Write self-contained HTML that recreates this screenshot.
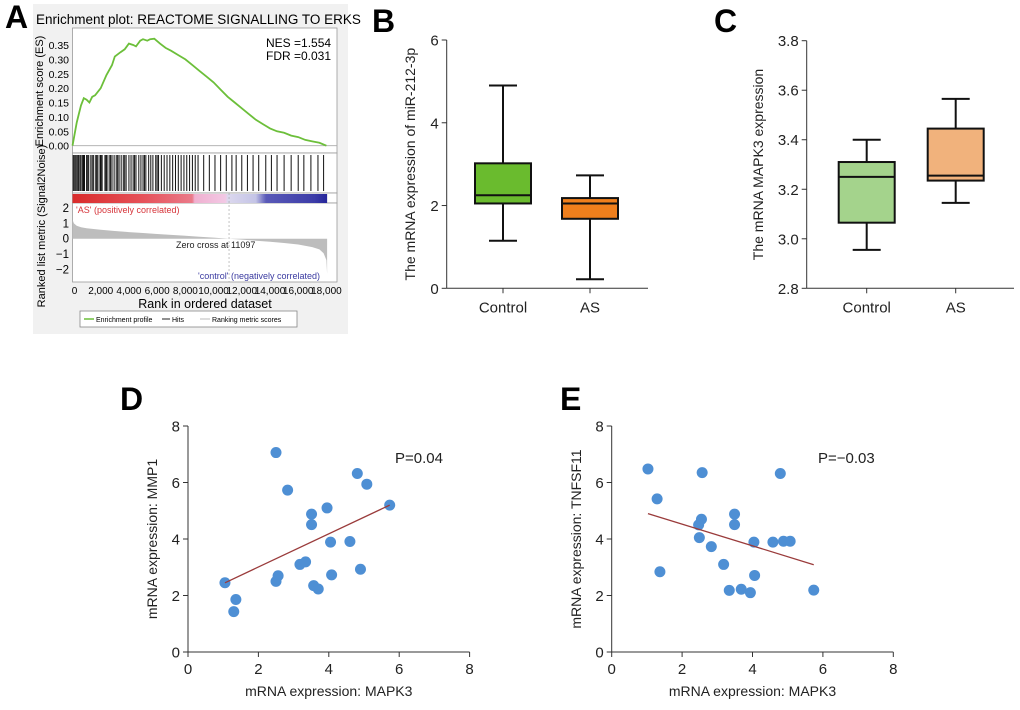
<!DOCTYPE html>
<html><head><meta charset="utf-8"><style>
html,body{margin:0;padding:0;background:#fff}
svg{display:block;font-family:"Liberation Sans",Arial,sans-serif}
</style></head><body>
<svg id="s" width="1020" height="710" viewBox="0 0 1020 710">
<rect width="1020" height="710" fill="#fff"/>
<g id="pa"></g>
<g id="pb"></g>
<g id="pc"></g>
<g id="pd"></g>
<g id="pe"></g>
</svg>
<script>
// ---- Panel A data ----
const esRank=[0,150,300,450,600,800,1000,1200,1400,1600,2000,2400,2800,3000,3400,3700,4000,4300,4500,4800,5000,5300,5500,5800,6200,6600,7000,7500,8000,8500,9000,9500,10000,10500,11000,11500,12000,12500,13000,13500,14000,14500,15000,15500,16000,16500,17000,17500,18000];
const esVal=[0,0.04,0.08,0.11,0.14,0.165,0.16,0.15,0.17,0.175,0.2,0.245,0.28,0.31,0.325,0.335,0.355,0.35,0.345,0.365,0.37,0.365,0.37,0.372,0.355,0.34,0.33,0.315,0.3,0.28,0.26,0.24,0.22,0.195,0.17,0.15,0.13,0.11,0.09,0.075,0.06,0.05,0.045,0.035,0.03,0.02,0.015,0.01,0.0];
const hitRanks=[50,120,200,300,380,420,520,600,700,780,850,1000,1080,1150,1300,1400,1500,1650,1720,1800,1950,2020,2100,2300,2380,2450,2600,2700,2800,2950,3100,3200,3300,3450,3600,3700,3800,4000,4150,4300,4400,4500,4700,4850,5000,5100,5200,5400,5550,5700,5900,6000,6100,6300,6500,6700,6900,7100,7300,7500,7700,7900,8100,8300,8500,8700,8900,9300,9700,10100,10500,10900,11300,11600,12000,12400,12800,13200,13700,14100,14500,15000,15500,16000,16400,16900,17400,17800];
const metricRank=[0,100,300,600,1000,2000,3000,4000,5000,6000,7000,8000,9000,10000,11097,12000,13000,14000,15000,16000,17000,17500,17800,18000,18050];
const metricVal=[1.25,1.0,0.85,0.75,0.68,0.58,0.5,0.43,0.37,0.31,0.25,0.19,0.13,0.07,0,-0.06,-0.13,-0.2,-0.28,-0.38,-0.55,-0.7,-0.95,-1.4,-2.3];
const esTicks=[0,0.05,0.1,0.15,0.2,0.25,0.3,0.35];
const metricTicks=[2,1,0,-1,-2];
const rankTicks=[0,2000,4000,6000,8000,10000,12000,14000,16000,18000];
// ---- Panel B/C data ----
const groups=["Control","AS"];
const bStats=[[1.15,2.05,2.25,3.02,4.9],[0.22,1.68,2.05,2.18,2.73]];
const bTicks=[0,2,4,6];
const cStats=[[2.955,3.065,3.25,3.31,3.40],[3.145,3.235,3.255,3.445,3.565]];
const cTicks=[2.8,3.0,3.2,3.4,3.6,3.8];
// ---- Panel D/E data ----
const dX=[1.05,1.36,1.30,2.50,2.50,2.56,2.83,3.18,3.34,3.51,3.51,3.57,3.70,3.95,4.05,4.08,4.60,4.81,4.90,5.08,5.73];
const dY=[2.45,1.86,1.43,7.06,2.50,2.70,5.73,3.10,3.19,4.88,4.51,2.35,2.23,5.10,3.89,2.73,3.91,6.32,2.93,5.94,5.20];
const dFit=[[1.05,2.45],[5.73,5.20]];
const eX=[1.03,1.29,1.37,2.57,2.55,2.47,2.49,2.83,3.18,3.34,3.49,3.49,3.68,3.94,4.04,4.06,4.58,4.79,4.88,5.07,5.74];
const eY=[6.48,5.42,2.84,6.35,4.70,4.50,4.05,3.73,3.10,2.18,4.88,4.51,2.22,2.10,3.89,2.71,3.89,6.32,3.92,3.92,2.19];
const eFit=[[1.03,4.90],[5.74,3.09]];
const scTicks=[0,2,4,6,8];

const NS="http://www.w3.org/2000/svg";
function mk(p,tag,at,txt){const e=document.createElementNS(NS,tag);for(const k in at)e.setAttribute(k,at[k]);if(txt!==undefined)e.textContent=txt;p.appendChild(e);return e;}

// ===== Panel A =====
(function(){
const g=document.getElementById('pa');
let t=mk(g,'text',{x:5,y:28,'font-size':32,'font-weight':'bold'},'A');

let bg=mk(g,'rect',{x:33,y:4,width:315,height:330,fill:'#f1f1f1'});

t=mk(g,'text',{x:36,y:24,'font-size':13.5},'Enrichment plot: REACTOME SIGNALLING TO ERKS');

const L=72.5,R=337,X0=0,X1=18600;
const xs=v=>L+(v-X0)/(X1-X0)*(R-L)*0.992;
const esy=v=>145.7-(v/0.35)*100.7;
let r=mk(g,'rect',{x:L,y:28,width:R-L,height:125,fill:'#fff',stroke:'#999','stroke-width':0.8});

r=mk(g,'rect',{x:L,y:153,width:R-L,height:40,fill:'#fff',stroke:'#999','stroke-width':0.8});

r=mk(g,'rect',{x:L,y:193,width:R-L,height:10,fill:'#fff',stroke:'#999','stroke-width':0.8});
r=mk(g,'rect',{x:L,y:203,width:R-L,height:79,fill:'#fff',stroke:'#999','stroke-width':0.8});

mk(g,'line',{x1:L,x2:R,y1:esy(0),y2:esy(0),stroke:'#aaa','stroke-width':0.8});
esTicks.forEach(v=>{const tt=mk(g,'text',{x:69,y:esy(v)+4,'font-size':10.5,'text-anchor':'end'},v.toFixed(2));
});
let d=esRank.map((v,i)=>(i?'L':'M')+xs(v).toFixed(1)+','+esy(esVal[i]).toFixed(1)).join('');
let p=mk(g,'path',{d:d,fill:'none',stroke:'#6cbf3a','stroke-width':1.8});

t=mk(g,'text',{x:266,y:47,'font-size':12},'NES =1.554');

t=mk(g,'text',{x:266,y:60,'font-size':12},'FDR =0.031');

t=mk(g,'text',{x:43,y:91,'font-size':11,'text-anchor':'middle',transform:'rotate(-90 43 91)'},'Enrichment score (ES)');

hitRanks.forEach(v=>{const l=mk(g,'line',{x1:xs(v),x2:xs(v),y1:155,y2:191,stroke:'#111','stroke-width':1});
});
const defs=mk(g,'defs',{});
const lg=mk(defs,'linearGradient',{id:'cb',x1:0,x2:1,y1:0,y2:0});
[[0,'#d92b2b'],[0.28,'#e6525a'],[0.47,'#ea7a8a'],[0.48,'#f0b0d0'],[0.6,'#f2c8e4'],[0.61,'#dcd8ee'],[0.72,'#c4c4e6'],[0.76,'#5a5ab8'],[0.95,'#3c3ca8'],[1,'#26269a']].forEach(s=>mk(lg,'stop',{offset:s[0],'stop-color':s[1]}));
r=mk(g,'rect',{x:L,y:194,width:xs(18050)-L,height:9,fill:'url(#cb)'});

const my=v=>238.7-v*15.3;
let md='M'+xs(0)+','+my(0)+metricRank.map((v,i)=>'L'+xs(v).toFixed(1)+','+my(metricVal[i]).toFixed(1)).join('')+'L'+xs(18050)+','+my(0)+'Z';
p=mk(g,'path',{d:md,fill:'#bdbdbd',stroke:'none'});

mk(g,'line',{x1:xs(11097),x2:xs(11097),y1:193,y2:282,stroke:'#aaa','stroke-width':0.7,'stroke-dasharray':'2,2'});
metricTicks.forEach(v=>{const tt=mk(g,'text',{x:69,y:my(v)+4,'font-size':11.5,'text-anchor':'end'},String(v).replace('-','−'));
});
t=mk(g,'text',{x:76,y:213,'font-size':9,fill:'#d6343a'},"'AS' (positively correlated)");

t=mk(g,'text',{x:176,y:248,'font-size':9,fill:'#222'},'Zero cross at 11097');

t=mk(g,'text',{x:198,y:279,'font-size':9,fill:'#3a3aa0'},"'control' (negatively correlated)");

t=mk(g,'text',{x:45,y:226,'font-size':11,'text-anchor':'middle',transform:'rotate(-90 45 226)'},'Ranked list metric (Signal2Noise)');

rankTicks.forEach(v=>{const tt=mk(g,'text',{x:xs(v)+(v===0?2:0),y:294,'font-size':10,'text-anchor':'middle'},v.toLocaleString('en-US'));
});
t=mk(g,'text',{x:205,y:308,'font-size':12.5,'text-anchor':'middle'},'Rank in ordered dataset');

r=mk(g,'rect',{x:80,y:311,width:217,height:16,fill:'#fff',stroke:'#888','stroke-width':0.8});

mk(g,'line',{x1:84,x2:94,y1:319,y2:319,stroke:'#6cbf3a','stroke-width':1.5});
t=mk(g,'text',{x:96,y:322,'font-size':7},'Enrichment profile');

mk(g,'line',{x1:162,x2:170,y1:319,y2:319,stroke:'#222','stroke-width':1});
t=mk(g,'text',{x:172,y:322,'font-size':7},'Hits');

mk(g,'line',{x1:200,x2:210,y1:319,y2:319,stroke:'#bbb','stroke-width':1});
t=mk(g,'text',{x:212,y:322,'font-size':7},'Ranking metric scores');

})();

// ===== Box plots =====
function boxPanel(id,letter,lx,ax,xEnd,yTop,yBot,ticks,stats,cols,centers,title,titleX,dec){
const g=document.getElementById(id);
let t=mk(g,'text',{x:lx,y:32,'font-size':32,'font-weight':'bold'},letter);

const lo=ticks[0],hi=ticks[ticks.length-1];
const ys=v=>yBot-(v-lo)/(hi-lo)*(yBot-yTop);
let a=mk(g,'line',{x1:ax,x2:ax,y1:yTop,y2:yBot,stroke:'#333','stroke-width':1});

a=mk(g,'line',{x1:ax,x2:xEnd,y1:yBot,y2:yBot,stroke:'#333','stroke-width':1});

ticks.forEach(v=>{mk(g,'line',{x1:ax-5,x2:ax,y1:ys(v),y2:ys(v),stroke:'#333'});
const tt=mk(g,'text',{x:ax-8,y:ys(v)+5.5,'font-size':15,'text-anchor':'end',fill:'#222'},v.toFixed(dec));
});
stats.forEach((s,i)=>{const cx=centers[i],hw=28;
mk(g,'line',{x1:cx,x2:cx,y1:yBot,y2:yBot+5,stroke:'#333'});
const tl=mk(g,'text',{x:cx,y:yBot+24,'font-size':15,'text-anchor':'middle',fill:'#222'},groups[i]);

const w=mk(g,'path',{d:`M${cx},${ys(s[0])}V${ys(s[1])}M${cx},${ys(s[3])}V${ys(s[4])}M${cx-14},${ys(s[0])}H${cx+14}M${cx-14},${ys(s[4])}H${cx+14}`,stroke:'#111','stroke-width':2,fill:'none'});

const b=mk(g,'rect',{x:cx-hw,y:ys(s[3]),width:hw*2,height:ys(s[1])-ys(s[3]),fill:cols[i],stroke:'#111','stroke-width':2});

const m=mk(g,'line',{x1:cx-hw,x2:cx+hw,y1:ys(s[2]),y2:ys(s[2]),stroke:'#111','stroke-width':2});

});
const ym=(yTop+yBot)/2;
t=mk(g,'text',{x:titleX,y:ym,'font-size':14,'text-anchor':'middle',fill:'#222',transform:`rotate(-90 ${titleX} ${ym})`},title);

}
boxPanel('pb','B',372,446.7,648,40,288.3,bTicks,bStats,['#6abb2e','#f07f1c'],[503,590],'The mRNA expression of miR-212-3p',415,0);
boxPanel('pc','C',714,806.7,1014,40.7,288.3,cTicks,cStats,['#a4d38c','#f1b27c'],[866.7,955.7],'The mRNA MAPK3 expression',763,1);

// ===== Scatter panels =====
function scatter(id,letter,lx,ax,xs_,ys_,fit,title,ptxt,ptx,titleX){
const g=document.getElementById(id);
let t=mk(g,'text',{x:lx,y:410,'font-size':32,'font-weight':'bold'},letter);

const X=v=>ax+v*35.2, Y=v=>652-v*28.25;
let a=mk(g,'line',{x1:ax,x2:ax,y1:Y(8),y2:Y(0),stroke:'#333'});

a=mk(g,'line',{x1:ax,x2:X(8),y1:Y(0),y2:Y(0),stroke:'#333'});

scTicks.forEach(v=>{mk(g,'line',{x1:ax-5,x2:ax,y1:Y(v),y2:Y(v),stroke:'#333'});
let tt=mk(g,'text',{x:ax-8,y:Y(v)+5.5,'font-size':15,'text-anchor':'end',fill:'#222'},String(v));

mk(g,'line',{x1:X(v),x2:X(v),y1:Y(0),y2:Y(0)+5,stroke:'#333'});
tt=mk(g,'text',{x:X(v),y:Y(0)+22,'font-size':15,'text-anchor':'middle',fill:'#222'},String(v));
});
xs_.forEach((v,i)=>{const c=mk(g,'circle',{cx:X(v),cy:Y(ys_[i]),r:5.5,fill:'#4e8fd4'});
});
const l=mk(g,'line',{x1:X(fit[0][0]),y1:Y(fit[0][1]),x2:X(fit[1][0]),y2:Y(fit[1][1]),stroke:'#9a3b3b','stroke-width':1.3});

t=mk(g,'text',{x:ptx,y:463,'font-size':15,fill:'#222'},ptxt);

t=mk(g,'text',{x:X(4),y:696,'font-size':14,'text-anchor':'middle',fill:'#222'},'mRNA expression: MAPK3');

t=mk(g,'text',{x:titleX,y:539,'font-size':14,'text-anchor':'middle',fill:'#222',transform:`rotate(-90 ${titleX} 539)`},title);

}
scatter('pd','D',120,188,dX,dY,dFit,'mRNA expression: MMP1','P=0.04',395,157);
scatter('pe','E',560,611.7,eX,eY,eFit,'mRNA expression: TNFSF11','P=−0.03',818,581);
</script>
</body></html>
